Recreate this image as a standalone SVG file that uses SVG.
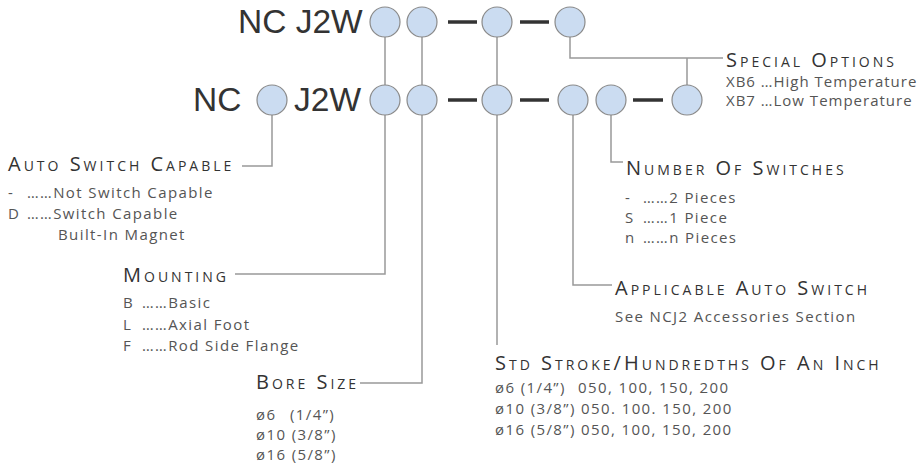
<svg xmlns="http://www.w3.org/2000/svg" width="923" height="468" viewBox="0 0 923 468">
<style>
.big{font-family:"Liberation Sans",Arial,sans-serif;font-size:33.5px;fill:#333}
.hd{font-family:"Open Sans","DejaVu Sans",sans-serif;font-size:20px;font-variant:small-caps;letter-spacing:3px;fill:#333}
.tx{font-family:"Open Sans","DejaVu Sans",sans-serif;font-size:15px;letter-spacing:1.4px;fill:#555}
.tn{letter-spacing:1px}
.c{fill:#cbdcf1;stroke:#8a8a8a;stroke-width:1.2}
.ln{stroke:#999;stroke-width:1.5;fill:none}
.dash{stroke:#333;stroke-width:3.5}
</style>
<rect width="923" height="468" fill="#fff"/>
<g id="connectors">
  <line class="ln" x1="385" y1="37" x2="385" y2="85"/>
  <line class="ln" x1="422" y1="37" x2="422" y2="85"/>
  <line class="ln" x1="497" y1="37" x2="497" y2="85"/>
  <path class="ln" d="M570 37V58H723"/>
  <line class="ln" x1="687" y1="58" x2="687" y2="85"/>
  <path class="ln" d="M272 115V166H242"/>
  <path class="ln" d="M385 115V274H235"/>
  <path class="ln" d="M422 115V383H360"/>
  <path class="ln" d="M497 115V345"/>
  <path class="ln" d="M573 115V285H612"/>
  <path class="ln" d="M611 115V162H623"/>
</g>
<g id="row-top">
  <text class="big" x="238" y="33">NC J2W</text>
  <circle class="c" cx="385" cy="22" r="15"/>
  <circle class="c" cx="422" cy="22" r="15"/>
  <line class="dash" x1="448" y1="22" x2="477" y2="22"/>
  <circle class="c" cx="497" cy="22" r="15"/>
  <line class="dash" x1="520" y1="22" x2="549" y2="22"/>
  <circle class="c" cx="570" cy="22" r="15"/>
</g>
<g id="row-bottom">
  <text class="big" x="193" y="111">NC</text>
  <circle class="c" cx="272" cy="100" r="15"/>
  <text class="big" x="294" y="111">J2W</text>
  <circle class="c" cx="385" cy="100" r="15"/>
  <circle class="c" cx="422" cy="100" r="15"/>
  <line class="dash" x1="448" y1="100" x2="477" y2="100"/>
  <circle class="c" cx="497" cy="100" r="15"/>
  <line class="dash" x1="520" y1="100" x2="549" y2="100"/>
  <circle class="c" cx="573" cy="100" r="15"/>
  <circle class="c" cx="611" cy="100" r="15"/>
  <line class="dash" x1="633" y1="100" x2="663" y2="100"/>
  <circle class="c" cx="687" cy="100" r="15"/>
</g>
<g id="special-options">
  <text class="hd" x="726" y="67">Special Options</text>
  <text class="tx tn" x="726" y="87">XB6 …High Temperature</text>
  <text class="tx tn" x="726" y="106">XB7 …Low Temperature</text>
</g>
<g id="auto-switch-capable">
  <text class="hd" x="8" y="171" letter-spacing="3.4">Auto Switch Capable</text>
  <text class="tx" y="198"><tspan x="8">-</tspan><tspan x="27">……Not Switch Capable</tspan></text>
  <text class="tx" y="219"><tspan x="8">D</tspan><tspan x="27">……Switch Capable</tspan></text>
  <text class="tx" x="58" y="240">Built-In Magnet</text>
</g>
<g id="mounting">
  <text class="hd" x="123" y="282">Mounting</text>
  <text class="tx" y="308"><tspan x="123">B</tspan><tspan x="142">……Basic</tspan></text>
  <text class="tx" y="330"><tspan x="123">L</tspan><tspan x="142">……Axial Foot</tspan></text>
  <text class="tx" y="351"><tspan x="123">F</tspan><tspan x="142">……Rod Side Flange</tspan></text>
</g>
<g id="bore-size">
  <text class="hd" x="256" y="389">Bore Size</text>
  <text class="tx" y="420"><tspan x="256">ø6</tspan><tspan x="290">(1/4”)</tspan></text>
  <text class="tx" x="256" y="440">ø10 (3/8”)</text>
  <text class="tx" x="256" y="460">ø16 (5/8”)</text>
</g>
<g id="std-stroke">
  <text class="hd" x="495" y="370">Std Stroke/Hundredths Of An Inch</text>
  <text class="tx" y="393"><tspan x="495">ø6 (1/4”)</tspan><tspan x="578">050, 100, 150, 200</tspan></text>
  <text class="tx" x="495" y="414">ø10 (3/8”) 050. 100. 150, 200</text>
  <text class="tx" x="495" y="435">ø16 (5/8”) 050, 100, 150, 200</text>
</g>
<g id="applicable-auto-switch">
  <text class="hd" x="615" y="295">Applicable Auto Switch</text>
  <text class="tx" x="615" y="322">See NCJ2 Accessories Section</text>
</g>
<g id="number-of-switches">
  <text class="hd" x="626" y="175">Number Of Switches</text>
  <text class="tx" y="203"><tspan x="625">-</tspan><tspan x="643">……2 Pieces</tspan></text>
  <text class="tx" y="223"><tspan x="625">S</tspan><tspan x="643">……1 Piece</tspan></text>
  <text class="tx" y="243"><tspan x="625">n</tspan><tspan x="643">……n Pieces</tspan></text>
</g>
</svg>
